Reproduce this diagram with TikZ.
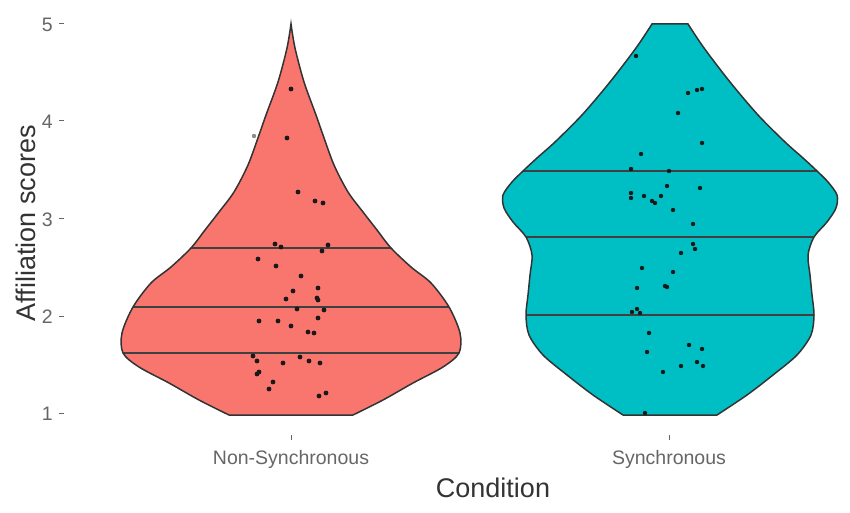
\documentclass[tikz,border=0pt]{standalone}
\usepackage{fontspec}
\setmainfont{Liberation Sans}
\definecolor{nonsync}{HTML}{F8766D}
\definecolor{sync}{HTML}{00BFC4}
\definecolor{edgegray}{HTML}{333333}
\tikzset{
  violin/.style={draw=edgegray, line width=1.5pt},
  quant/.style={draw=black!75, line width=2.4pt},
  jit/.style={fill=black!90},
  ticklab/.style={text=black!60, inner sep=0pt, font=\fontsize{19.5}{20}\selectfont},
  axtitle/.style={text=black!80, inner sep=0pt, font=\fontsize{27}{28}\selectfont},
  axtick/.style={draw=black!60, line width=1pt}
}
% outlines, half widths about the centre line (pixel units, y down)
\newcommand{\redshape}{plot[smooth] coordinates {(0,24) (4,48) (13,82) (25,115) (32,135)
    (43,165) (57,192) (72,212) (86,230) (100,248) (120,267) (140,283) (158,307)
    (169,333) (168,353) (152,367) (122,383) (92,400) (62,415)}
  -- plot[smooth] coordinates {(-62,415) (-92,400) (-122,383) (-152,367) (-168,353)
    (-169,333) (-158,307) (-140,283) (-120,267) (-100,248) (-86,230) (-72,212)
    (-57,192) (-43,165) (-32,135) (-25,115) (-13,82) (-4,48) (0,24)} -- cycle}
\newcommand{\tealshape}{plot[smooth] coordinates {(18,24) (34,48) (60,82) (88,115)
    (115,142) (133,158) (147,171) (158,182) (167,195) (166,208) (157,222) (144,237)
    (138,255) (140,275) (142,295) (144,315) (141,335) (127,355) (103,375) (77,395) (47,415)}
  -- plot[smooth] coordinates {(-47,415) (-77,395) (-103,375) (-127,355) (-141,335)
    (-144,315) (-142,295) (-140,275) (-138,255) (-144,237) (-157,222) (-166,208)
    (-167,195) (-158,182) (-147,171) (-133,158) (-115,142) (-88,115) (-60,82)
    (-34,48) (-18,24)} -- cycle}
\begin{document}
\begin{tikzpicture}[x=1pt, y=-1pt]
  \useasboundingbox (0,0) rectangle (850,513);
  % Non-Synchronous
  \begin{scope}[xshift=291pt]
    \begin{scope}
      \clip \redshape;
      \fill[nonsync] \redshape;
      \foreach \q in {248,307,353}
        \draw[quant] (-200,\q) -- (200,\q);
    \end{scope}
    \draw[violin] \redshape;
  \end{scope}
  % Synchronous
  \begin{scope}[xshift=670pt]
    \begin{scope}
      \clip \tealshape;
      \fill[sync] \tealshape;
      \foreach \q in {171,237,315}
        \draw[quant] (-200,\q) -- (200,\q);
    \end{scope}
    \draw[violin] \tealshape;
  \end{scope}
  % jittered points
  \fill[black!45] (254,136) circle (2.2pt);
  \foreach \x/\y in {291/89, 287/138, 298/192, 315/201, 323/203, 275/244, 281/247,
      328/245, 322/251, 258/259, 276/266, 301/276, 293/291, 318/288, 286/299,
      317/298, 318/300, 297/309, 324/310, 259/321, 278/321, 291/326, 318/318,
      308/332, 314/333, 253/356, 257/361, 283/363, 300/357, 309/361, 320/363,
      257/374, 259/372, 273/382, 269/389, 319/396, 326/393}
    \fill[jit] (\x,\y) circle (2.4pt);
  \foreach \x/\y in {636/56, 688/93, 697/90, 702/89, 678/113, 702/143, 641/154,
      631/169, 669/171, 667/186, 700/188, 631/193, 631/198, 644/196, 652/201,
      655/203, 661/196, 673/210, 693/224, 693/244, 695/249, 681/253, 642/268,
      673/272, 637/288, 665/286, 667/287, 632/312, 637/309, 640/313, 649/333,
      647/352, 689/345, 702/349, 681/366, 697/362, 703/366, 663/372, 645/413}
    \fill[jit] (\x,\y) circle (2.2pt);
  % y axis
  \foreach \v/\p in {1/413, 2/316, 3/218.5, 4/121, 5/24} {
    \draw[axtick] (59,\p) -- (64,\p);
    \node[ticklab, anchor=base east] (ytick\v) at (53,\p+7.5) {\v};
  }
  \node[axtitle, rotate=90, anchor=base] (ylab) at (35,223) {Affiliation scores};
  % x axis
  \draw[axtick] (291,435) -- (291,440);
  \draw[axtick] (669,435) -- (669,440);
  \node[ticklab, anchor=base] (nslab) at (291,464) {Non-Synchronous};
  \node[ticklab, anchor=base] (sylab) at (669,464) {Synchronous};
  \node[axtitle, anchor=base] (xlab) at (493,497) {Condition};
\end{tikzpicture}
\end{document}
